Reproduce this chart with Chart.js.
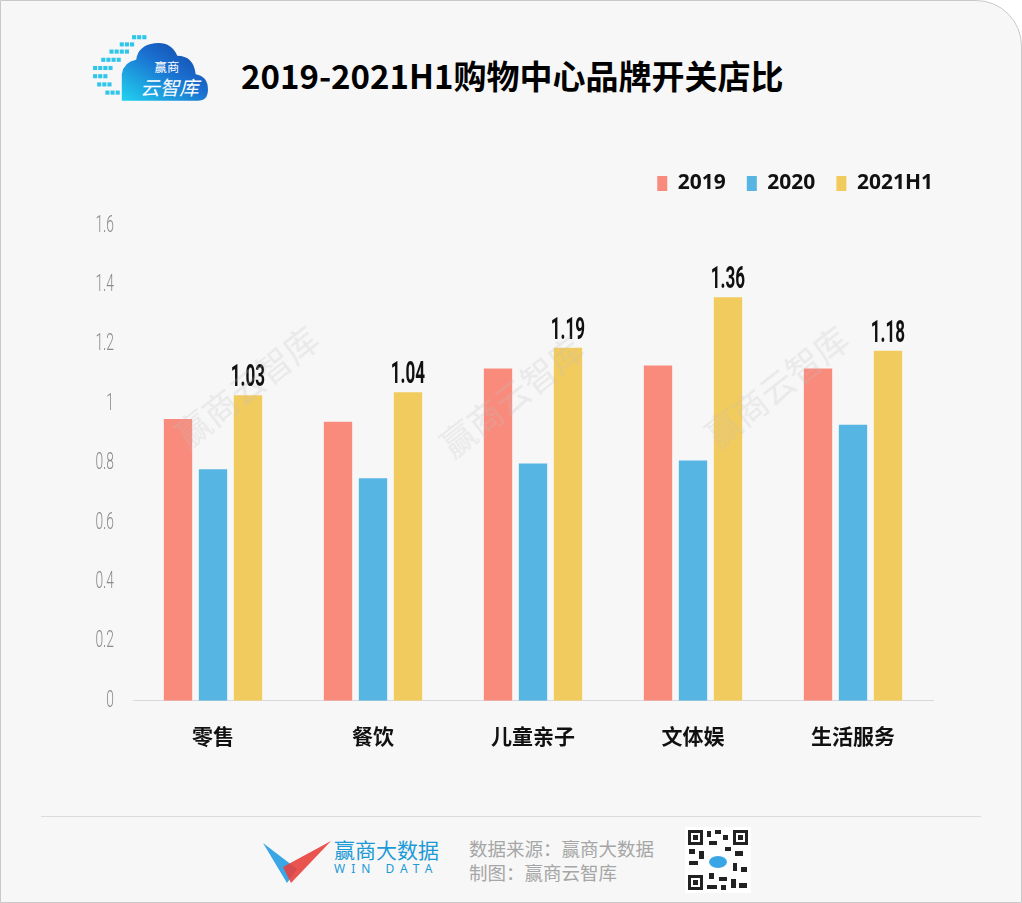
<!DOCTYPE html>
<html>
<head>
<meta charset="utf-8">
<script src="https://cdn.jsdelivr.net/npm/chart.js@4"></script>
<style>
  html, body { margin: 0; padding: 0; background: #fff; }
  #page {
    position: relative; width: 1020px; height: 901px;
    background: #f7f7f7; border: 1px solid #c9c9c9;
    border-top-right-radius: 46px; overflow: hidden;
    font-family: "Noto Sans CJK SC", sans-serif;
  }
  #title {
    position: absolute; left: 240px; top: 50px; font-size: 33px; font-weight: 700;
    color: #000; white-space: nowrap; line-height: 48px;
  }
  #logo { position: absolute; left: 90px; top: 30px; width: 118px; height: 74px; }
  #chartBox { position: absolute; left: 40px; top: 150px; width: 940px; height: 613px; }
  .wm {
    position: absolute; font-size: 34px; color: rgba(190,190,190,0.25);
    transform: rotate(-38deg); white-space: nowrap; pointer-events: none;
  }
  #sep { position: absolute; left: 40px; width: 940px; top: 815px; height: 1px; background: #dcdcdc; }
  #src { position: absolute; left: 468px; top: 835px; color: #a6a6a6; font-size: 18.5px; line-height: 24px; }
  #wd { position: absolute; left: 262px; top: 838px; }
  #wdText { position: absolute; left: 333px; top: 836px; color: #1c9ad6; }
  #qr { position: absolute; left: 684px; top: 826px; width: 66px; height: 66px; background: #fff; }
</style>
</head>
<body>
<div id="page">
  <svg id="logo" viewBox="0 0 115 68">
    <defs>
      <linearGradient id="cg" x1="0" y1="1" x2="1" y2="0">
        <stop offset="0" stop-color="#21d3f0"/>
        <stop offset="0.55" stop-color="#1a6fd0"/>
        <stop offset="1" stop-color="#123f9e"/>
      </linearGradient>
    </defs>
    <path d="M30 66 L104 66 Q114 66 114 55 Q114 42 102 40 Q100 22 84 22 Q78 8 62 10 Q46 12 44 26 Q32 28 30 40 Z" fill="url(#cg)"/>
    <g fill="#2fc6ea">
      <rect x="40" y="2" width="4" height="4"/><rect x="45" y="2" width="4" height="4"/><rect x="50" y="2" width="4" height="4"/>
      <rect x="28" y="9" width="4" height="4"/><rect x="33" y="9" width="4" height="4"/><rect x="38" y="9" width="4" height="4"/>
      <rect x="18" y="16" width="4" height="4"/><rect x="23" y="16" width="4" height="4"/><rect x="28" y="16" width="4" height="4"/><rect x="33" y="16" width="4" height="4"/>
      <rect x="10" y="24" width="4" height="4"/><rect x="15" y="24" width="4" height="4"/><rect x="20" y="24" width="4" height="4"/><rect x="25" y="24" width="4" height="4"/>
      <rect x="2" y="32" width="4" height="4"/><rect x="7" y="32" width="4" height="4"/><rect x="12" y="32" width="4" height="4"/><rect x="17" y="32" width="4" height="4"/>
      <rect x="2" y="40" width="4" height="4"/><rect x="7" y="40" width="4" height="4"/><rect x="12" y="40" width="4" height="4"/>
      <rect x="6" y="48" width="4" height="4"/><rect x="11" y="48" width="4" height="4"/><rect x="16" y="48" width="4" height="4"/>
      <rect x="14" y="56" width="4" height="4"/><rect x="19" y="56" width="4" height="4"/><rect x="24" y="56" width="4" height="4"/>
    </g>
    <text x="62" y="38" font-size="12" fill="#fff" font-family="Noto Sans CJK SC">赢商</text>
    <text x="48" y="60" font-size="19" fill="#fff" font-style="italic" font-family="Noto Sans CJK SC">云智库</text>
  </svg>
  <div id="title">2019-2021H1购物中心品牌开关店比</div>
  <div id="chartBox"><canvas id="chart"></canvas></div>
  <div class="wm" style="left:160px;top:360px;">赢商云智库</div>
  <div class="wm" style="left:425px;top:370px;">赢商云智库</div>
  <div class="wm" style="left:690px;top:360px;">赢商云智库</div>
  <div id="sep"></div>
  <svg id="wd" width="70" height="44" viewBox="0 0 70 44">
    <polygon points="0,4 24,44 34,30" fill="#3aa6e6"/>
    <polygon points="68,2 28,44 20,28" fill="#e8413c" opacity="0.9"/>
  </svg>
  <div id="wdText">
    <div style="font-size:21px;line-height:24px;">赢商大数据</div>
    <div style="font-size:12px;letter-spacing:6px;line-height:16px;font-family:'Noto Sans';">WIN DATA</div>
  </div>
  <div id="src">数据来源：赢商大数据<br>制图：赢商云智库</div>
  <svg id="qr" viewBox="0 0 66 66">
    <rect width="66" height="66" fill="#fff"/>
    <g fill="#222">
      <rect x="3" y="3" width="15" height="15"/><rect x="48" y="3" width="15" height="15"/><rect x="3" y="48" width="15" height="15"/>
      <rect x="22" y="4" width="4" height="6"/><rect x="30" y="3" width="6" height="4"/><rect x="38" y="8" width="5" height="5"/>
      <rect x="24" y="14" width="8" height="4"/><rect x="4" y="22" width="6" height="5"/><rect x="14" y="24" width="5" height="8"/>
      <rect x="40" y="20" width="6" height="4"/><rect x="50" y="24" width="8" height="5"/><rect x="4" y="34" width="9" height="4"/>
      <rect x="48" y="36" width="4" height="8"/><rect x="56" y="40" width="6" height="5"/><rect x="24" y="46" width="5" height="6"/>
      <rect x="34" y="50" width="8" height="4"/><rect x="46" y="52" width="5" height="9"/><rect x="54" y="56" width="8" height="5"/>
      <rect x="22" y="58" width="10" height="4"/><rect x="36" y="58" width="5" height="5"/>
    </g>
    <g fill="#fff"><rect x="6" y="6" width="9" height="9"/><rect x="51" y="6" width="9" height="9"/><rect x="6" y="51" width="9" height="9"/></g>
    <g fill="#222"><rect x="8" y="8" width="5" height="5"/><rect x="53" y="8" width="5" height="5"/><rect x="8" y="53" width="5" height="5"/></g>
    <ellipse cx="33" cy="35" rx="9" ry="6" fill="#3aa6e6"/>
  </svg>
</div>
<script>
const categories = ['零售', '餐饮', '儿童亲子', '文体娱', '生活服务'];
const seriesNames = ['2019', '2020', '2021H1'];
const values2019 = [0.95, 0.94, 1.12, 1.13, 1.12];
const values2020 = [0.78, 0.75, 0.80, 0.81, 0.93];
const values2021H1 = [1.03, 1.04, 1.19, 1.36, 1.18];
const yTicks = [0, 0.2, 0.4, 0.6, 0.8, 1, 1.2, 1.4, 1.6];
const colors = ['#f98b7d', '#57b5e4', '#f2cb5e'];

// condensed text: no narrow font installed, so squeeze horizontally
function narrowText(ctx, text, x, y, squeeze) {
  ctx.save();
  ctx.translate(x, y);
  ctx.scale(squeeze, 1);
  ctx.fillText(text, 0, 0);
  ctx.restore();
}

// value labels on the 2021H1 bars + condensed y tick labels
const narrowLabels = {
  id: 'narrowLabels',
  afterDatasetsDraw(chart) {
    const ctx = chart.ctx;
    const meta = chart.getDatasetMeta(2);
    ctx.save();
    ctx.font = 'bold 31px "Roboto", sans-serif';
    ctx.fillStyle = '#111';
    ctx.textAlign = 'center';
    ctx.textBaseline = 'alphabetic';
    meta.data.forEach((bar, i) => {
      narrowText(ctx, values2021H1[i].toFixed(2), bar.x, bar.y - 9, 0.55);
    });

    const y = chart.scales.y;
    ctx.font = '300 23px "Roboto", sans-serif';
    ctx.fillStyle = '#8a8a8a';
    ctx.textAlign = 'right';
    ctx.textBaseline = 'middle';
    y.ticks.forEach(t => {
      narrowText(ctx, String(t.value), y.right - 19, y.getPixelForValue(t.value), 0.6);
    });
    ctx.restore();
  }
};

// room between legend and plot, legend pushed to plot's right edge
const legendTweak = {
  id: 'legendTweak',
  beforeInit(chart) {
    const origFit = chart.legend.fit;
    chart.legend.fit = function () {
      origFit.bind(chart.legend)();
      this.height += 22;
    };
  },
  afterLayout(chart) {
    chart.legend.left += 21;
    chart.legend.right += 21;
  }
};

new Chart(document.getElementById('chart'), {
  type: 'bar',
  data: {
    labels: categories,
    datasets: [
      { label: seriesNames[0], data: values2019, backgroundColor: colors[0] },
      { label: seriesNames[1], data: values2020, backgroundColor: colors[1] },
      { label: seriesNames[2], data: values2021H1, backgroundColor: colors[2] }
    ]
  },
  options: {
    responsive: true,
    maintainAspectRatio: false,
    animation: false,
    categoryPercentage: 0.656,
    barPercentage: 0.81,
    layout: { padding: { left: 0, right: 48, top: 1, bottom: 0 } },
    plugins: {
      legend: {
        position: 'top',
        align: 'end',
        labels: {
          boxWidth: 10,
          boxHeight: 15,
          padding: 21,
          color: '#111',
          font: { size: 21, weight: 'bold', family: '"Noto Sans", sans-serif' }
        }
      },
      tooltip: { enabled: false }
    },
    scales: {
      x: {
        grid: { display: false },
        border: { color: '#d9d9d9', width: 1 },
        ticks: {
          color: '#111',
          padding: 15,
          font: { size: 21, weight: 'bold', family: '"Noto Sans CJK SC", sans-serif' }
        }
      },
      y: {
        min: 0,
        max: 1.6,
        afterBuildTicks: axis => { axis.ticks = yTicks.map(v => ({ value: v })); },
        afterFit: axis => { axis.width = 92; },
        grid: { display: false },
        border: { display: false },
        ticks: { display: false }
      }
    }
  },
  plugins: [narrowLabels, legendTweak]
});
</script>
</body>
</html>
